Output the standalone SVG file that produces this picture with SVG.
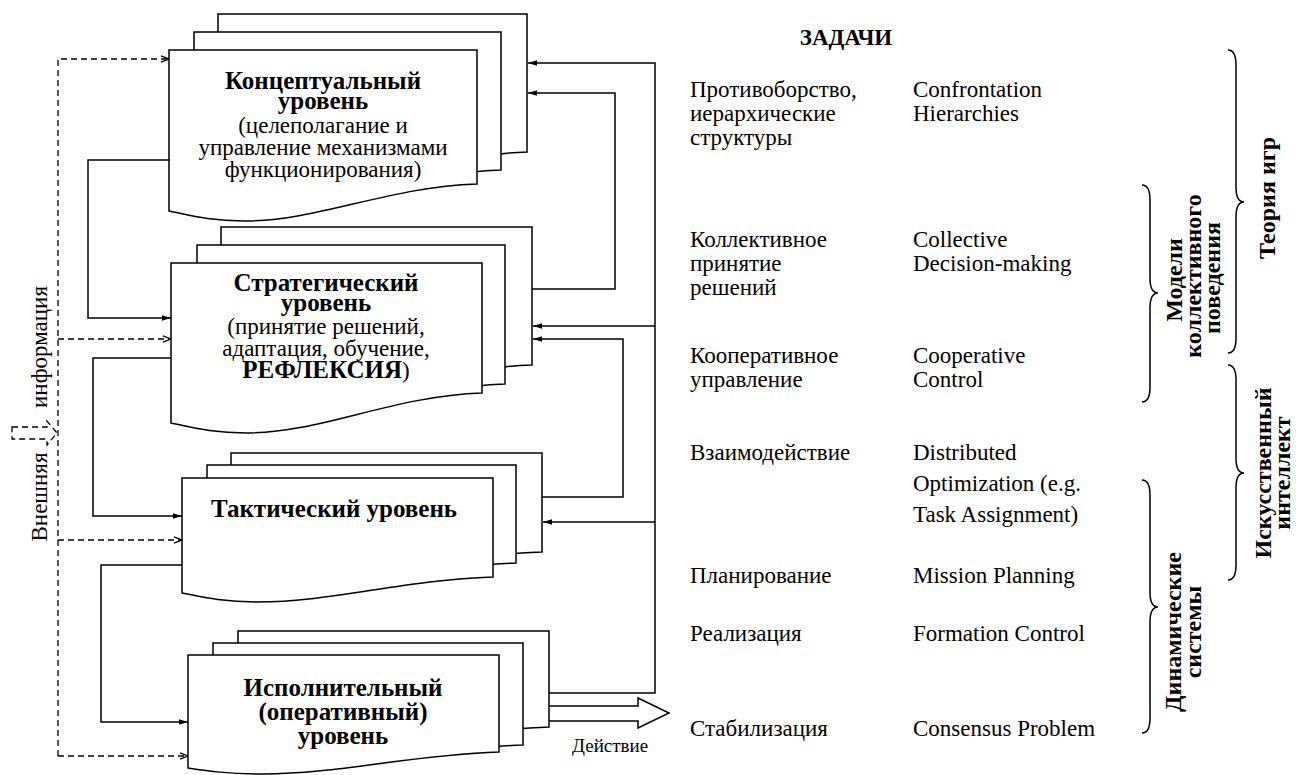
<svg xmlns="http://www.w3.org/2000/svg" width="1296" height="775" viewBox="0 0 1296 775">
<defs>
<style>
.sheet{fill:#fff;stroke:#000;stroke-width:1.5}
.ln{fill:none;stroke:#000;stroke-width:1.5}
.dash{fill:none;stroke:#000;stroke-width:1.3;stroke-dasharray:6,4}
text{font-family:"Liberation Serif","Times New Roman",serif;fill:#000}
.t{font-size:23px}
.b{font-size:25px;font-weight:bold}
.c{text-anchor:middle}
.lab{font-size:24px;font-weight:bold;text-anchor:middle}
</style>
<marker id="ah" viewBox="0 0 10 10" refX="10" refY="5" markerWidth="9" markerHeight="9" markerUnits="userSpaceOnUse" orient="auto"><path d="M0,2 L10,5 L0,8 Z" fill="#000"/></marker>
<marker id="oh" viewBox="0 0 10 10" refX="10" refY="5" markerWidth="9" markerHeight="9" markerUnits="userSpaceOnUse" orient="auto"><path d="M1,1.5 L10,5 L1,8.5" fill="none" stroke="#000" stroke-width="1.3"/></marker>
</defs>
<rect width="1296" height="775" fill="#fff"/>

<g id="connectors">
<path class="ln" d="M169,160 H88 V318 H171" marker-end="url(#ah)"/>
<path class="ln" d="M171,358 H93 V516 H182" marker-end="url(#ah)"/>
<path class="ln" d="M182,565 H101 V722 H188" marker-end="url(#ah)"/>
<path class="ln" d="M549,693 H655 V63 H528" marker-end="url(#ah)"/>
<path class="ln" d="M655,326 H533" marker-end="url(#ah)"/>
<path class="ln" d="M655,522 H543" marker-end="url(#ah)"/>
<path class="ln" d="M532,289 H615 V93 H528" marker-end="url(#ah)"/>
<path class="ln" d="M542,497 H623 V339 H533" marker-end="url(#ah)"/>
<path class="dash" d="M58,756 V59 H169" marker-end="url(#oh)"/>
<path class="dash" d="M58,339 H171" marker-end="url(#oh)"/>
<path class="dash" d="M58,540 H182" marker-end="url(#oh)"/>
<path class="dash" d="M58,756 H188" marker-end="url(#oh)"/>
</g>

<g id="conceptual">
<path class="sheet" d="M218,14 H527 V152 C437,155 368,189 293,189 C258,189 238,183 218,179 Z"/>
<path class="sheet" d="M194,32 H501 V170 C411,173 344,207 269,207 C234,207 214,201 194,197 Z"/>
<path class="sheet" d="M169,50 H477 V184 C387,187 319,221 244,221 C209,221 189,215 169,211 Z"/>
<text class="b c" x="323" y="89">Концептуальный</text>
<text class="b c" x="323" y="109">уровень</text>
<text class="t c" x="323" y="133">(целеполагание и</text>
<text class="t c" x="323" y="155">управление механизмами</text>
<text class="t c" x="323" y="177">функционирования)</text>
</g>

<g id="strategic">
<path class="sheet" d="M221,227 H532 V365 C442,368 371,402 296,402 C261,402 241,396 221,392 Z"/>
<path class="sheet" d="M197,245 H505 V384 C415,387 347,424 272,424 C237,424 217,418 197,414 Z"/>
<path class="sheet" d="M171,263 H482 V393 C392,396 321,433 246,433 C211,433 191,427 171,423 Z"/>
<text class="b c" x="326" y="291">Стратегический</text>
<text class="b c" x="326" y="311">уровень</text>
<text class="t c" x="326" y="334">(принятие решений,</text>
<text class="t c" x="326" y="356">адаптация, обучение,</text>
<text class="t c" x="326" y="378"><tspan font-weight="bold" font-size="25">РЕФЛЕКСИЯ</tspan>)</text>
</g>

<g id="tactical">
<path class="sheet" d="M231,453 H542 V552 C452,555 381,577 306,577 C271,577 251,572 231,568 Z"/>
<path class="sheet" d="M207,465 H516 V563 C426,566 357,588 282,588 C247,588 227,583 207,579 Z"/>
<path class="sheet" d="M182,478 H493 V577 C403,580 332,602 257,602 C222,602 202,597 182,593 Z"/>
<text class="b c" x="334" y="517">Тактический уровень</text>
</g>

<g id="executive">
<path class="sheet" d="M238,631 H549 V727 C459,730 388,749 313,749 C278,749 258,746 238,743 Z"/>
<path class="sheet" d="M213,643 H523 V745 C433,748 363,767 288,767 C253,767 233,764 213,761 Z"/>
<path class="sheet" d="M188,655 H499 V752 C409,755 338,774 263,774 C228,774 208,771 188,768 Z"/>
<text class="b c" x="343" y="696">Исполнительный</text>
<text class="b c" x="343" y="720">(оперативный)</text>
<text class="b c" x="343" y="744">уровень</text>
</g>

<g id="action">
<path class="ln" d="M549,706 H638 V698 L669,713 L638,728 V721 H549" fill="#fff"/>
<text x="572" y="752" font-size="19">Действие</text>
</g>

<g id="external-info">
<path class="dash" d="M12,427 H47 V421 L57,433 L47,445 V439 H12 Z" stroke-dasharray="5,3"/>
<text class="t" text-anchor="middle" transform="translate(47,347) rotate(-90)">информация</text>
<text class="t" text-anchor="middle" transform="translate(47,497) rotate(-90)">Внешняя</text>
</g>

<g id="tasks">
<text x="846" y="45" font-size="23" font-weight="bold" text-anchor="middle">ЗАДАЧИ</text>
<g class="t">
<text x="690" y="97">Противоборство,</text>
<text x="690" y="121">иерархические</text>
<text x="690" y="145">структуры</text>
<text x="913" y="97">Confrontation</text>
<text x="913" y="121">Hierarchies</text>
<text x="690" y="247">Коллективное</text>
<text x="690" y="271">принятие</text>
<text x="690" y="295">решений</text>
<text x="913" y="247">Collective</text>
<text x="913" y="271">Decision-making</text>
<text x="690" y="363">Кооперативное</text>
<text x="690" y="387">управление</text>
<text x="913" y="363">Cooperative</text>
<text x="913" y="387">Control</text>
<text x="690" y="460">Взаимодействие</text>
<text x="913" y="460">Distributed</text>
<text x="913" y="491">Optimization (e.g.</text>
<text x="913" y="522">Task Assignment)</text>
<text x="690" y="583">Планирование</text>
<text x="913" y="583">Mission Planning</text>
<text x="690" y="641">Реализация</text>
<text x="913" y="641">Formation Control</text>
<text x="690" y="736">Стабилизация</text>
<text x="913" y="736">Consensus Problem</text>
</g>
</g>

<g id="game-theory">
<path class="ln" d="M1228,50 Q1236,50 1236,65 V187 Q1236,202 1244,202 Q1236,202 1236,217 V338 Q1236,353 1228,353"/>
<text class="lab" transform="translate(1275,198) rotate(-90)">Теория игр</text>
</g>

<g id="collective-behavior">
<path class="ln" d="M1142,185 Q1150,185 1150,200 V278 Q1150,293 1158,293 Q1150,293 1150,308 V387 Q1150,402 1142,402"/>
<text class="lab" transform="translate(1182,280) rotate(-90)">Модели</text>
<text class="lab" transform="translate(1201,276) rotate(-90)">коллективного</text>
<text class="lab" transform="translate(1220,278) rotate(-90)">поведения</text>
</g>

<g id="ai">
<path class="ln" d="M1228,365 Q1236,365 1236,380 V458 Q1236,473 1244,473 Q1236,473 1236,488 V565 Q1236,580 1228,580"/>
<text class="lab" font-size="25" transform="translate(1271,473) rotate(-90)">Искусственный</text>
<text class="lab" font-size="25" transform="translate(1290,473) rotate(-90)">интеллект</text>
</g>

<g id="dynamic-systems">
<path class="ln" d="M1142,480 Q1150,480 1150,495 V592 Q1150,607 1158,607 Q1150,607 1150,622 V718 Q1150,733 1142,733"/>
<text class="lab" transform="translate(1181,632) rotate(-90)">Динамические</text>
<text class="lab" transform="translate(1201,632) rotate(-90)">системы</text>
</g>
</svg>
